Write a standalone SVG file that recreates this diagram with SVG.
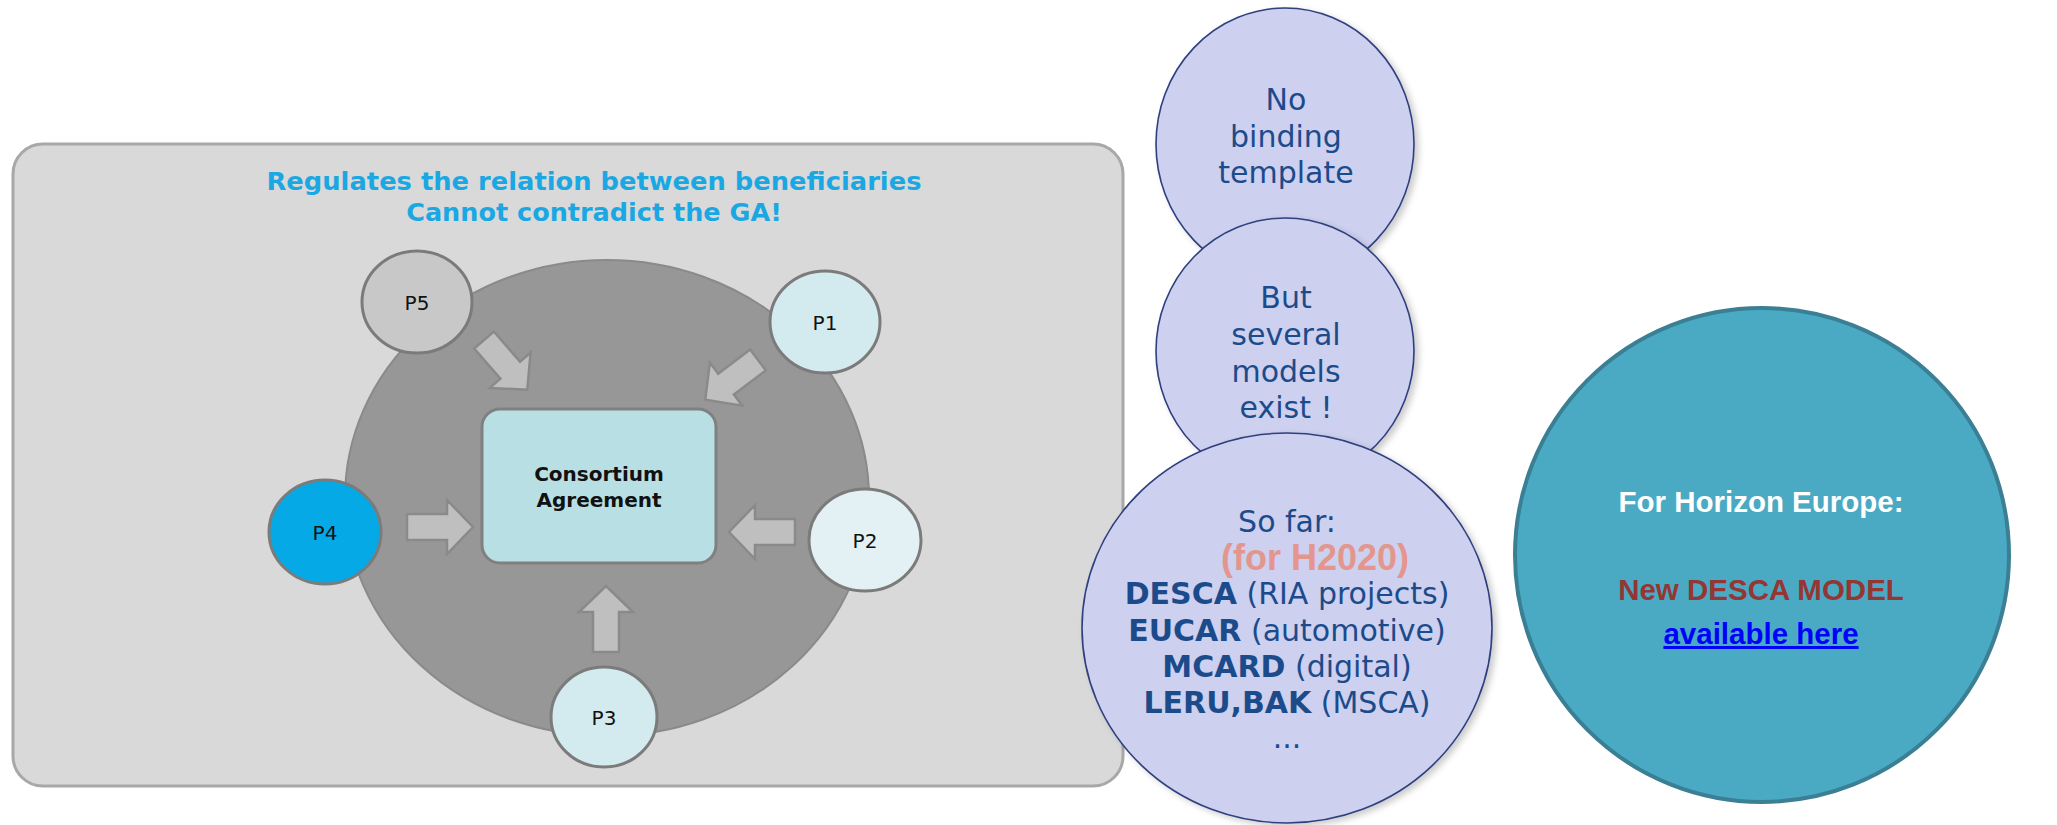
<svg xmlns="http://www.w3.org/2000/svg" width="2057" height="825" viewBox="0 0 2057 825">
<defs>
<style>
.panel{fill:#d9d9d9;stroke:#a8a8a8;stroke-width:3}
.ring{fill:#979797;stroke:#8a8a8a;stroke-width:2}
.pnode{stroke:#7b7b7b;stroke-width:3}
.plab{font-family:"DejaVu Sans",Verdana,sans-serif;font-size:20px;fill:#111;text-anchor:middle}
.title{font-family:"DejaVu Sans",Verdana,sans-serif;font-weight:bold;font-size:25.5px;fill:#1ba8e2;text-anchor:middle}
.ca{fill:#b8dfe3;stroke:#808080;stroke-width:3}
.calab{font-family:"DejaVu Sans",Verdana,sans-serif;font-weight:bold;font-size:20px;fill:#111;text-anchor:middle}
.arr{fill:#bfbfbf;stroke:#8a8a8a;stroke-width:2.5;stroke-linejoin:miter}
.bub{fill:#cdd0ee;stroke:#2e3f7e;stroke-width:1.6;filter:url(#shadow)}
.btxt{font-family:"DejaVu Sans",Verdana,sans-serif;font-size:30px;fill:#1c4b8c;text-anchor:middle}
.bb{font-weight:bold}
.h2020{font-family:"Liberation Sans",Arial,sans-serif;font-weight:bold;font-size:36px;fill:#e3968d;text-anchor:middle}
.teal{fill:#4aaac4;stroke:#3a7f93;stroke-width:4}
.ttxt{font-family:"Liberation Sans",Arial,sans-serif;font-weight:bold;font-size:29.5px;text-anchor:middle}
</style>
<filter id="shadow" x="-10%" y="-10%" width="125%" height="125%">
<feDropShadow dx="4" dy="3" stdDeviation="3" flood-color="#000000" flood-opacity="0.2"/>
</filter>
<path id="blockArrow" d="M0,-13 L40,-13 L40,-27 L66,0 L40,27 L40,13 L0,13 Z"/>
</defs>
<rect width="2057" height="825" fill="#ffffff"/>

<g id="panel">
<rect class="panel" x="13" y="144" width="1110" height="642" rx="30" ry="30"/>
<text class="title" x="594" y="190" textLength="655" lengthAdjust="spacingAndGlyphs">Regulates the relation between beneficiaries</text>
<text class="title" x="594" y="221">Cannot contradict the GA!</text>
</g>

<g id="consortium-ring">
<ellipse class="ring" cx="607" cy="498" rx="262" ry="238"/>
</g>

<g id="consortium-agreement">
<rect class="ca" x="482" y="409" width="234" height="154" rx="18" ry="18"/>
<text class="calab" x="599" y="481">Consortium</text>
<text class="calab" x="599" y="507">Agreement</text>
</g>

<g id="connectors">
<use href="#blockArrow" class="arr" transform="translate(484,340) rotate(49)"/>
<use href="#blockArrow" class="arr" transform="translate(758,360) rotate(143)"/>
<use href="#blockArrow" class="arr" transform="translate(407,527)"/>
<use href="#blockArrow" class="arr" transform="translate(795,532) rotate(180)"/>
<use href="#blockArrow" class="arr" transform="translate(606,652) rotate(-90)"/>
</g>

<g id="P5">
<ellipse class="pnode" cx="417" cy="302" rx="55" ry="51" fill="#c8c8c8"/>
<text class="plab" x="417" y="310">P5</text>
</g>
<g id="P1">
<ellipse class="pnode" cx="825" cy="322" rx="55" ry="51" fill="#d3ebee"/>
<text class="plab" x="825" y="330">P1</text>
</g>
<g id="P4">
<ellipse class="pnode" cx="325" cy="532" rx="56" ry="52" fill="#05a9e6"/>
<text class="plab" x="325" y="540">P4</text>
</g>
<g id="P2">
<ellipse class="pnode" cx="865" cy="540" rx="56" ry="51" fill="#e4f1f4"/>
<text class="plab" x="865" y="548">P2</text>
</g>
<g id="P3">
<ellipse class="pnode" cx="604" cy="717" rx="53" ry="50" fill="#d3ebee"/>
<text class="plab" x="604" y="725">P3</text>
</g>

<g id="bubble-no-template">
<ellipse class="bub" cx="1285" cy="144" rx="129" ry="136"/>
<text class="btxt" x="1286" y="110">No</text>
<text class="btxt" x="1286" y="147">binding</text>
<text class="btxt" x="1286" y="183">template</text>
</g>

<g id="bubble-models">
<ellipse class="bub" cx="1285" cy="351" rx="129" ry="133"/>
<text class="btxt" x="1286" y="308">But</text>
<text class="btxt" x="1286" y="345">several</text>
<text class="btxt" x="1286" y="382">models</text>
<text class="btxt" x="1286" y="418">exist !</text>
</g>

<g id="bubble-so-far">
<ellipse class="bub" cx="1287" cy="628" rx="205" ry="195"/>
<text class="btxt" x="1287" y="532">So far:</text>
<text class="h2020" x="1315" y="570">(for H2020)</text>
<text class="btxt" x="1287" y="604"><tspan class="bb">DESCA</tspan> (RIA projects)</text>
<text class="btxt" x="1287" y="641"><tspan class="bb">EUCAR</tspan> (automotive)</text>
<text class="btxt" x="1287" y="677"><tspan class="bb">MCARD</tspan> (digital)</text>
<text class="btxt" x="1287" y="713"><tspan class="bb">LERU,BAK</tspan> (MSCA)</text>
<text class="btxt" x="1287" y="748">...</text>
</g>

<g id="horizon-europe">
<circle class="teal" cx="1762" cy="555" r="247"/>
<text class="ttxt" x="1761" y="512" fill="#ffffff">For Horizon Europe:</text>
<text class="ttxt" x="1761" y="600" fill="#943634">New DESCA MODEL</text>
<text class="ttxt" x="1761" y="644" fill="#0000ff" text-decoration="underline">available here</text>
</g>
</svg>
